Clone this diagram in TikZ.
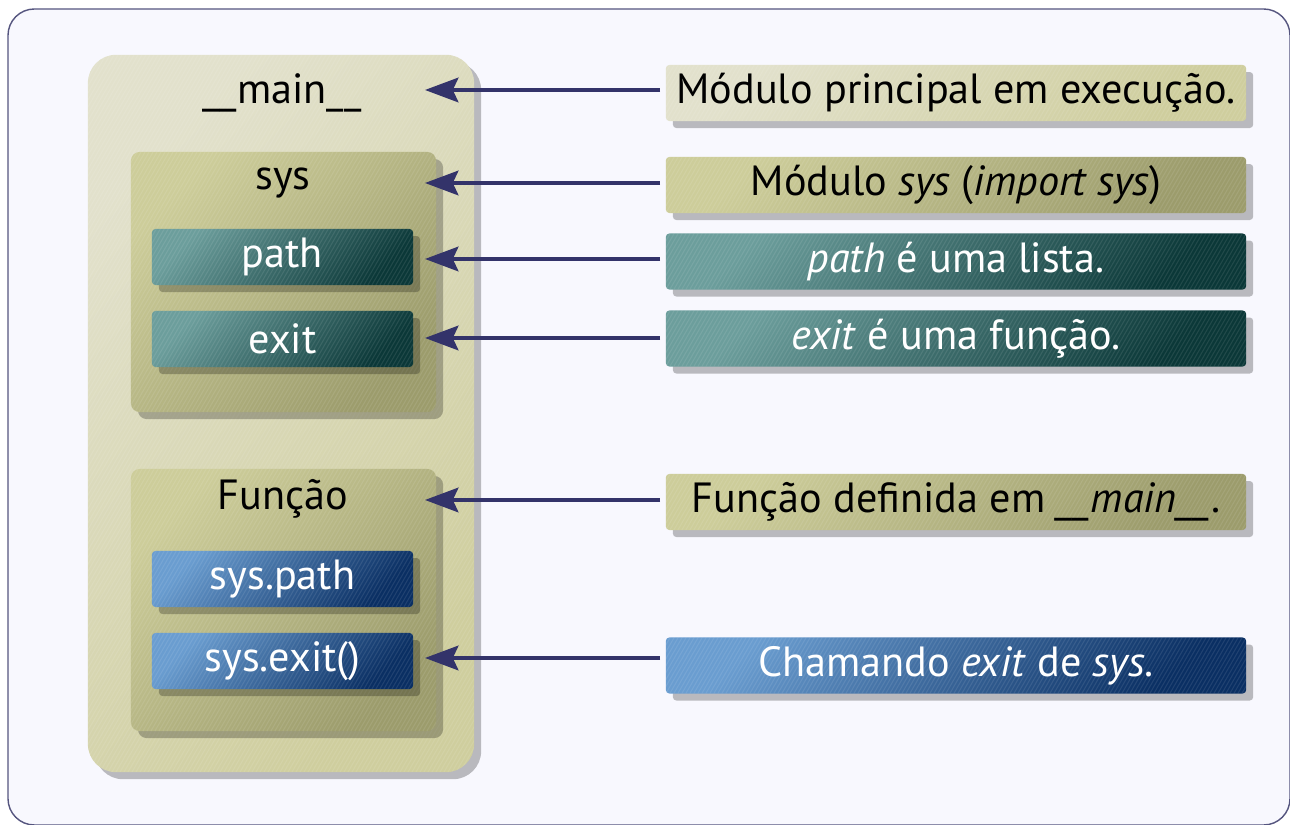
\documentclass[tikz,border=0pt]{standalone}
\usepackage{fontspec}
\setmainfont{PT Sans}
\usetikzlibrary{positioning,shadows,arrows.meta}
\definecolor{paper}{HTML}{F8F8FE}
\definecolor{framecol}{HTML}{55557F}
\definecolor{arrowcol}{HTML}{33336A}
\definecolor{paletop}{HTML}{E2E1CC}
\definecolor{palebot}{HTML}{CFCE9E}
\definecolor{olivetop}{HTML}{CDCD9A}
\definecolor{olivebot}{HTML}{9C9C6C}
\definecolor{tealtop}{HTML}{6C9E9C}
\definecolor{tealbot}{HTML}{0B3838}
\definecolor{bluetop}{HTML}{6A9DD0}
\definecolor{bluebot}{HTML}{0A2F63}
\newcommand{\labelfont}{\fontsize{12}{14.5}\selectfont}

\begin{document}
\begin{tikzpicture}[x=0.01cm, y=-0.01cm,
	cbox/.style={rectangle, inner sep=0pt, align=center, font=\labelfont,
		drop shadow={shadow xshift=2pt, shadow yshift=-2pt, opacity=0.25, fill=black},
		path picture={
			\foreach \k in {-420,-416,...,600}
				\draw[white, opacity=0.09, line width=0.3pt] ([xshift=\k*0.01cm]path picture bounding box.south west) -- ++(-60:900);
		}},
	palebox/.style={cbox, top color=paletop, bottom color=palebot, shading angle=45, text=black},
	olivebox/.style={cbox, top color=olivetop, bottom color=olivebot, shading angle=45, text=black},
	tealbox/.style={cbox, top color=tealtop, bottom color=tealbot, shading angle=45, text=white, rounded corners=1pt},
	bluebox/.style={cbox, top color=bluetop, bottom color=bluebot, shading angle=45, text=white, rounded corners=1pt},
	item/.style={minimum width=2.61cm, minimum height=0.56cm},
	note/.style={minimum width=5.8cm, minimum height=0.56cm, rounded corners=1pt},
	title/.style={inner sep=0pt, font=\labelfont},
	ptr/.style={arrowcol, line width=1pt, shorten <=1.4pt, -{Stealth[length=9.5pt,width=7pt,inset=1.6pt]}},
]
	\useasboundingbox (0,0) rectangle (1290,825);
	\fill[white] (0,0) rectangle (1290,825);
	\draw[framecol, fill=paper, line width=0.4pt, rounded corners=7.5pt] (8,9) rectangle (1290,825);

	\node[palebox, rounded corners=8pt, minimum width=3.86cm, minimum height=7.17cm] (main) at (281,413.5) {};
	\node[olivebox, rounded corners=2.5pt, minimum width=3.05cm, minimum height=2.6cm] (sys) at (283.5,282) {};
	\node[olivebox, rounded corners=2.5pt, minimum width=3.05cm, minimum height=2.62cm] (func) at (283.5,600) {};

	\node[title] (maint) at (282,93) {\_\_main\_\_};
	\node[title] (syst) at (283,183) {sys};
	\node[title] (funct) at (283,499) {Função};

	\node[tealbox, item] (path) at (282.5,257) {path};
	\node[tealbox, item] (exit) at (282.5,339) {exit};
	\node[bluebox, item] (spath) at (282.5,579) {sys.path};
	\node[bluebox, item] (sexit) at (282.5,661) {sys.exit()};

	\node[palebox, note] (r1) at (956,93) {Módulo principal em execução.};
	\node[olivebox, note] (r2) at (956,185) {Módulo \textit{sys} (\textit{import sys})};
	\node[tealbox, note] (r3) at (956,261.5) {\textit{path} é uma lista.};
	\node[tealbox, note] (r4) at (956,338.5) {\textit{exit} é uma função.};
	\node[olivebox, note] (r5) at (956,502) {Função definida em \textit{\_\_main\_\_}.};
	\node[bluebox, note] (r6) at (956,665.5) {Chamando \textit{exit} de \textit{sys}.};

	\coordinate (t1) at (425,90);
	\coordinate (t2) at (425,183);
	\coordinate (t3) at (425,259);
	\coordinate (t4) at (425,338);
	\coordinate (t5) at (425,500);
	\coordinate (t6) at (425,658);

	\draw[ptr] (r1.west |- t1) -- (t1);
	\draw[ptr] (r2.west |- t2) -- (t2);
	\draw[ptr] (r3.west |- t3) -- (t3);
	\draw[ptr] (r4.west |- t4) -- (t4);
	\draw[ptr] (r5.west |- t5) -- (t5);
	\draw[ptr] (r6.west |- t6) -- (t6);
\end{tikzpicture}
\end{document}
